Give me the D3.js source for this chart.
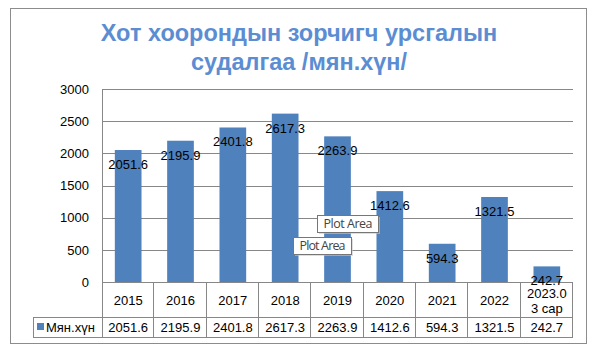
<!DOCTYPE html>
<html><head><meta charset="utf-8">
<script src="https://cdn.jsdelivr.net/npm/d3@7"></script>
<style>body{margin:0;background:#fff;}svg{display:block;font-family:Arial,"Liberation Sans",sans-serif;}</style>
</head><body>
<svg id="c" width="598" height="355"></svg>
<script>
const categories = ["2015","2016","2017","2018","2019","2020","2021","2022","2023.0\n3 сар"];
const values = [2051.6,2195.9,2401.8,2617.3,2263.9,1412.6,594.3,1321.5,242.7];
const valueLabels = ["2051.6","2195.9","2401.8","2617.3","2263.9","1412.6","594.3","1321.5","242.7"];
const yTicks = [0,500,1000,1500,2000,2500,3000];
const seriesName = "Мян.хүн";
const titleLines = ["Хот хоорондын зорчигч урсгалын","судалгаа /мян.хүн/"];

const svg = d3.select("#c");
const plot = {l:102, r:573, t:89, b:282};
const tableRow1 = 317, tableRow2 = 337, tableLeft = 33;
const grid = "#878787", blue = "#4F81BD";

svg.append("rect").attr("x",10.5).attr("y",8.5).attr("width",576).attr("height",335).attr("fill","#fff").attr("stroke","#8c8c8c");

svg.append("g").selectAll("text").data(titleLines).join("text")
  .attr("x",299).attr("y",(d,i)=>41+i*29).attr("text-anchor","middle")
  .attr("font-size",23.5).attr("font-weight","bold").attr("fill","#5B8DD3").text(d=>d);

const x = d3.scaleBand().domain(categories).range([plot.l,plot.r]).paddingInner(0.49).paddingOuter(0.245);
const xc = d3.scaleBand().domain(categories).range([plot.l,plot.r]);
const y = d3.scaleLinear().domain([0,3000]).range([plot.b,plot.t]);

svg.append("g").selectAll("line").data(yTicks).join("line")
  .attr("x1",plot.l).attr("x2",plot.r).attr("y1",d=>Math.round(y(d))+0.5).attr("y2",d=>Math.round(y(d))+0.5)
  .attr("stroke",grid).attr("stroke-width",1);

const yAxis = d3.axisLeft(y).tickValues(yTicks).tickSize(0).tickPadding(13).tickFormat(d3.format("d"));
const ga = svg.append("g").attr("transform",`translate(${plot.l},0)`).call(yAxis);
ga.select(".domain").remove();
ga.selectAll("text").attr("font-size",13).attr("fill","#000").attr("font-family","Arial,'Liberation Sans',sans-serif");
svg.append("line").attr("x1",plot.l+0.5).attr("x2",plot.l+0.5).attr("y1",plot.t).attr("y2",tableRow2).attr("stroke",grid);

svg.append("g").selectAll("rect").data(values).join("rect")
  .attr("x",(d,i)=>x(categories[i])).attr("width",x.bandwidth())
  .attr("y",d=>y(d)).attr("height",d=>plot.b-y(d)).attr("fill",blue);

const tg = svg.append("g");
tg.append("line").attr("x1",tableLeft).attr("x2",plot.r).attr("y1",tableRow1+0.5).attr("y2",tableRow1+0.5).attr("stroke",grid);
tg.append("line").attr("x1",tableLeft).attr("x2",plot.r).attr("y1",tableRow2+0.5).attr("y2",tableRow2+0.5).attr("stroke",grid);
tg.append("line").attr("x1",tableLeft+0.5).attr("x2",tableLeft+0.5).attr("y1",tableRow1).attr("y2",tableRow2).attr("stroke",grid);
tg.selectAll("line.v").data(categories).join("line").attr("class","v")
  .attr("x1",d=>Math.round(xc(d)+xc.bandwidth())-0.5).attr("x2",d=>Math.round(xc(d)+xc.bandwidth())-0.5)
  .attr("y1",plot.b).attr("y2",tableRow2).attr("stroke",grid);

tg.selectAll("text.cat").data(categories).join("text").attr("class","cat")
  .attr("text-anchor","middle").attr("font-size",13).attr("fill","#000")
  .each(function(d){
    const lines=d.split("\n"); const t=d3.select(this);
    const cx=xc(d)+xc.bandwidth()/2;
    if(lines.length===1){ t.append("tspan").attr("x",cx).attr("y",304.5).text(lines[0]); }
    else { lines.forEach((l,i)=>t.append("tspan").attr("x",cx).attr("y",297.5+i*15).text(l)); }
  });

tg.selectAll("text.val").data(valueLabels).join("text").attr("class","val")
  .attr("x",(d,i)=>xc(categories[i])+xc.bandwidth()/2).attr("y",332)
  .attr("text-anchor","middle").attr("font-size",13).attr("fill","#000").text(d=>d);
tg.append("rect").attr("x",37).attr("y",323).attr("width",7).attr("height",7).attr("fill",blue);
tg.append("text").attr("x",46).attr("y",332).attr("font-size",13).attr("fill","#000").text(seriesName);

svg.append("g").selectAll("text").data(values).join("text")
  .attr("x",(d,i)=>x(categories[i])+x.bandwidth()/2).attr("y",d=>y(d)+19)
  .attr("text-anchor","middle").attr("font-size",13).attr("fill","#000").text((d,i)=>valueLabels[i]);

const tips=[{x:317,y:215,w:61,h:17},{x:293,y:237,w:58,h:17}];
const tp=svg.append("g");
tips.forEach(b=>{
  tp.append("rect").attr("x",b.x+2).attr("y",b.y+2).attr("width",b.w).attr("height",b.h).attr("fill","#c8c8c8").attr("opacity",0.6);
  tp.append("rect").attr("x",b.x+0.5).attr("y",b.y+0.5).attr("width",b.w).attr("height",b.h).attr("fill","#fff").attr("stroke","#767676");
  tp.append("text").attr("x",b.x+b.w/2+0.5).attr("y",b.y+13).attr("text-anchor","middle")
    .attr("font-size",12.5).attr("fill","#444").attr("font-family","'Open Sans',sans-serif").attr("textLength",b.w-12).text("Plot Area");
});
</script>
</body></html>
